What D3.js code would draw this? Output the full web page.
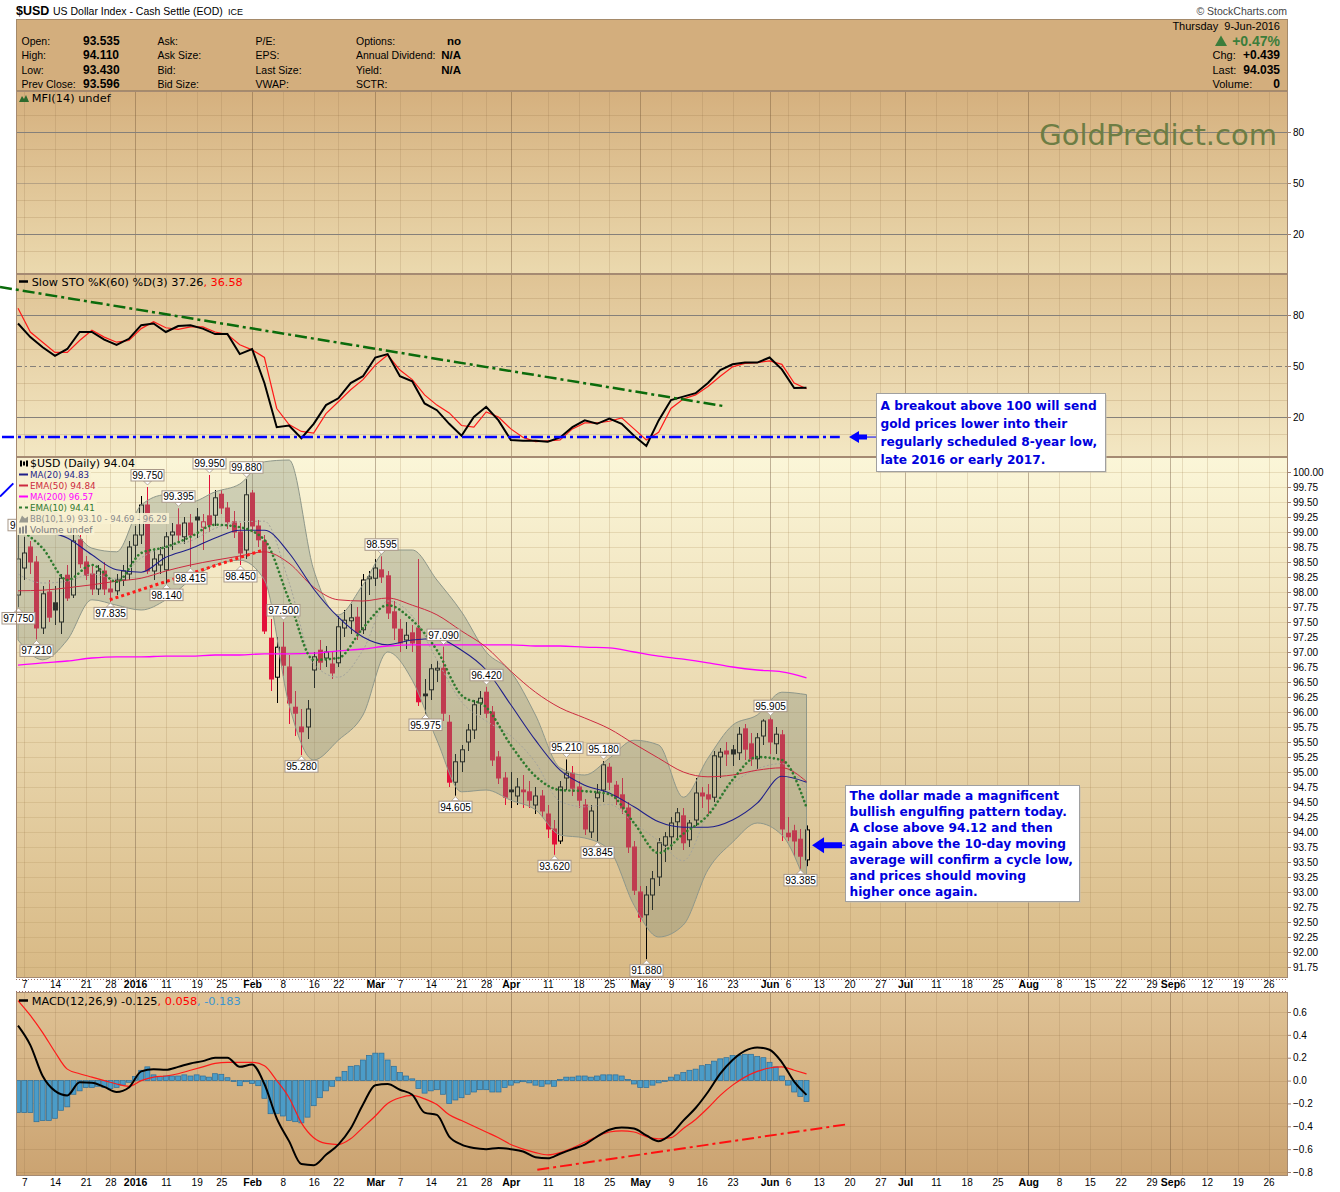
<!DOCTYPE html>
<html><head><meta charset="utf-8"><title>$USD</title>
<script src="https://cdn.jsdelivr.net/npm/d3@7/dist/d3.min.js"></script>
<style>html,body{margin:0;padding:0;background:#fff;}svg{display:block;}</style>
</head><body>
<svg id="chart" width="1340" height="1192" xmlns="http://www.w3.org/2000/svg"></svg>
<script>
// ================= DATA =================
const holidays=["2015-12-25","2016-01-01","2016-01-18","2016-02-15","2016-03-25","2016-05-30","2016-07-04","2016-09-05"];
const firstDay="2015-12-04", lastAxisDay="2016-09-30";

const opens=[97.95,98.40,98.75,98.50,97.40,98.00,97.82,97.50,98.28,97.95,98.87,98.50,98.30,98.05,98.35,98.05,98.02,98.20,98.30,98.78,
98.95,99.45,98.35,98.45,98.37,98.95,99.12,98.92,99.15,99.25,99.08,99.27,99.28,99.63,99.40,99.17,99.00,98.70,99.65,99.10,
98.85,97.23,96.58,97.08,96.75,96.08,95.75,95.75,96.70,97.03,96.90,96.80,96.82,97.40,97.52,97.58,97.37,98.22,98.23,98.37,
98.27,97.67,97.38,97.20,97.32,97.40,96.30,96.37,96.70,96.73,95.83,94.83,95.17,95.50,95.70,96.15,96.33,96.00,95.25,94.90,
94.70,94.60,94.70,94.67,94.45,94.60,94.30,94.05,93.85,94.90,94.98,94.75,94.45,94.00,94.57,94.70,95.08,94.78,94.62,94.40,
93.75,93.00,92.62,92.95,93.25,93.78,93.92,94.17,94.27,93.87,94.20,94.65,94.62,94.58,95.25,95.35,95.37,95.32,95.72,95.47,
95.22,95.60,95.87,95.47,95.62,93.98,94.02,93.88,93.535];
const highs=[98.95,98.92,98.85,98.60,98.10,98.20,98.10,98.30,98.45,99.05,98.95,98.60,98.45,98.45,98.50,98.20,98.30,98.45,98.85,99.10,
99.60,99.75,98.70,98.75,99.00,99.15,99.395,99.25,99.30,99.40,99.30,99.95,99.70,99.70,99.50,99.35,99.15,99.88,99.70,99.20,
98.95,97.55,97.25,97.50,96.95,96.35,96.05,96.20,97.00,97.20,97.10,97.00,97.60,97.70,97.80,97.75,98.30,98.35,98.55,98.595,
98.35,97.85,97.55,97.50,97.45,98.55,96.55,96.80,96.85,97.09,95.95,95.30,95.45,95.80,96.20,96.35,96.42,96.10,95.35,95.00,
95.00,94.90,94.95,94.85,94.75,94.70,94.45,94.20,94.85,95.21,95.10,94.85,94.55,94.45,94.80,95.18,95.15,94.85,94.90,94.50,
93.85,93.10,93.10,93.35,93.90,94.00,94.25,94.40,94.40,94.20,94.90,94.75,94.80,95.35,95.40,95.50,95.45,95.75,95.80,95.65,
95.65,95.88,95.905,95.75,95.70,94.25,94.12,94.05,94.11];
const lows=[97.75,98.20,98.30,97.21,97.30,97.50,97.45,97.30,97.85,97.90,98.40,98.20,97.95,97.95,97.95,97.835,97.95,98.10,98.20,98.55,
98.80,98.30,98.20,98.30,98.14,98.70,98.85,98.80,98.415,98.90,98.70,99.00,99.10,99.30,99.05,98.90,98.45,98.55,99.00,98.75,
97.30,96.35,96.15,96.60,95.80,95.60,95.28,95.55,96.40,96.70,96.75,96.55,96.75,97.25,97.30,97.20,97.30,97.95,98.10,98.15,
97.55,97.20,97.00,97.05,97.00,96.10,95.975,96.20,96.50,95.85,94.75,94.605,95.00,95.35,95.55,95.95,95.90,95.10,94.80,94.45,
94.40,94.45,94.40,94.40,94.30,94.25,93.90,93.62,93.80,94.70,94.60,94.40,93.95,93.90,93.845,94.50,94.70,94.45,94.30,93.65,
92.95,92.50,91.88,92.70,93.10,93.50,93.70,93.90,93.70,93.75,94.10,94.40,94.30,94.50,94.90,95.10,95.10,95.20,95.20,95.10,
95.05,95.45,95.30,95.30,93.85,93.85,93.60,93.385,93.43];
const closes=[98.55,98.65,98.50,97.40,97.97,97.58,97.70,98.23,97.90,98.85,98.47,98.28,98.05,98.35,98.05,98.00,98.20,98.35,98.75,98.95,
99.45,98.35,98.55,98.62,98.92,99.00,98.95,99.15,98.95,99.20,99.17,99.12,99.57,99.40,99.17,99.00,98.65,99.62,99.10,98.87,
97.35,96.55,97.08,96.78,96.15,95.98,95.67,96.05,96.92,96.83,97.00,96.65,97.42,97.53,97.57,97.32,98.20,98.25,98.40,98.25,
97.65,97.40,97.15,97.28,97.15,96.17,96.27,96.72,96.73,95.98,94.83,95.17,95.37,95.70,96.12,96.23,95.98,95.20,94.90,94.58,
94.67,94.75,94.67,94.53,94.60,94.35,94.05,93.80,94.75,94.98,94.73,94.53,94.05,94.35,94.65,95.12,94.83,94.58,94.40,93.75,
93.03,92.58,92.95,93.22,93.82,93.92,94.15,94.32,93.82,94.15,94.65,94.60,94.55,95.27,95.33,95.30,95.30,95.63,95.38,95.22,
95.57,95.85,95.50,95.63,94.05,93.92,93.85,93.596,94.035];

// overlays sampled every 4th bar
const ovIdx=[0,4,8,12,16,20,24,28,32,36,40,44,48,52,56,60,64,68,72,76,80,84,88,92,96,100,104,108,112,116,120,124,128];
const ma20=[99.17,99.03,98.9,98.62,98.37,98.33,98.58,98.72,98.9,99.03,99.03,98.65,98.05,97.58,97.25,97.12,97.2,97.22,97.03,96.7,96.12,95.53,95.03,94.78,94.65,94.42,94.17,94.08,94.08,94.2,94.48,94.93,94.83];
const ema50=[98.02,98.03,98.07,98.12,98.18,98.23,98.35,98.45,98.53,98.6,98.67,98.48,98.08,97.87,97.85,97.9,97.78,97.62,97.35,97.08,96.68,96.33,96.07,95.9,95.72,95.47,95.23,95.0,94.92,94.95,95.03,95.07,94.84];
const ma200=[96.78,96.82,96.85,96.9,96.92,96.92,96.93,96.93,96.95,96.95,96.97,96.97,96.98,97.02,97.05,97.1,97.12,97.12,97.12,97.12,97.12,97.1,97.1,97.08,97.07,97.0,96.93,96.88,96.82,96.75,96.7,96.67,96.57];
const ema10=[99.07,98.73,98.2,98.45,98.17,98.65,98.75,98.92,99.12,99.08,98.87,97.87,96.87,96.9,97.4,97.78,97.53,97.03,96.28,96.08,95.45,94.93,94.7,94.68,94.63,94.15,93.65,93.97,94.28,94.87,95.25,95.2,94.41];
const bbUpper=[99.4,99.43,99.17,98.73,98.67,99.45,99.62,99.5,99.67,99.8,100.17,100.2,98.37,97.62,98.12,98.7,98.7,98.2,97.67,97.0,96.67,95.95,95.07,94.95,95.23,95.53,95.45,94.58,95.23,95.78,95.95,96.33,96.29];
const bbMid=[98.3,98.15,98.18,98.3,98.22,98.57,98.75,98.85,99.06,99.17,99.18,98.16,96.8,96.58,97.03,97.85,97.6,96.87,96.17,95.85,95.6,95.16,94.51,94.42,94.46,94.15,93.85,93.52,94.3,94.8,95.05,95.14,94.69];
const bbLower=[97.2,96.87,97.2,97.87,97.78,97.7,97.87,98.2,98.45,98.53,98.2,96.12,95.2,95.53,95.95,97.0,96.53,95.53,94.67,94.7,94.53,94.37,93.95,93.9,93.7,92.78,92.25,92.45,93.37,93.83,94.15,93.95,93.10];

// indicator lines sampled every 2nd bar (bars 0,2,...,128)
const stoK=[75,67,61,56,60,70,70,65.5,62.4,66,74,75,70,73.5,74,72,68.8,68.8,57,60,40,14,15,7.5,16,27,31,40,44,55,57,44,41,28,24,16,9,20,26,18,6.5,6,6,5.5,8,14,18,16,19,16,9,3,18,30,32,34,40,47.6,51,52,52,55,48,37,37.26];
const stoD=[84,70,64,58,58,65,71,67,64,65,72,76,72.5,71.5,73,73,70,68.5,62.5,59.5,55,25,15.5,11.5,10.5,22,29,36,42,50.5,56.5,47.6,42,33,27,22.4,15,14,23,20,13,8,5.5,6,6.5,13,16.5,16.5,17.5,19.5,13,6.5,11,25,30.6,33,38,44,49.5,51.5,52,53,51,40,36.58];
const macdLine=[0.48,0.31,0.04,-0.09,-0.13,-0.015,-0.02,-0.055,-0.10,-0.06,0.08,0.10,0.095,0.12,0.15,0.17,0.20,0.20,0.12,0.14,-0.03,-0.33,-0.53,-0.73,-0.74,-0.65,-0.56,-0.42,-0.21,-0.04,-0.03,-0.08,-0.125,-0.28,-0.30,-0.49,-0.56,-0.59,-0.6,-0.59,-0.6,-0.62,-0.67,-0.68,-0.64,-0.6,-0.56,-0.49,-0.43,-0.41,-0.42,-0.48,-0.53,-0.47,-0.35,-0.24,-0.10,0.06,0.18,0.26,0.29,0.27,0.16,-0.01,-0.125];
const macdSignal=[0.70,0.57,0.42,0.25,0.10,0.06,0.03,0.0,-0.03,-0.05,0.0,0.03,0.04,0.06,0.09,0.12,0.15,0.16,0.16,0.16,0.13,0.0,-0.15,-0.37,-0.50,-0.55,-0.56,-0.51,-0.41,-0.31,-0.2,-0.15,-0.13,-0.16,-0.21,-0.30,-0.35,-0.4,-0.45,-0.5,-0.56,-0.6,-0.63,-0.65,-0.63,-0.59,-0.54,-0.49,-0.45,-0.44,-0.45,-0.49,-0.51,-0.50,-0.42,-0.34,-0.24,-0.13,-0.04,0.03,0.08,0.11,0.12,0.09,0.058];
// histogram, one per bar
const macdHist=[-0.28,-0.28,-0.28,-0.36,-0.35,-0.35,-0.33,-0.26,-0.23,-0.12,-0.09,-0.06,-0.06,-0.05,-0.06,-0.07,-0.06,-0.04,-0.015,0.035,
0.09,0.12,0.05,0.035,0.04,0.04,0.04,0.05,0.04,0.05,0.04,0.03,0.06,0.055,0.025,-0.005,-0.045,-0.01,-0.025,-0.045,
-0.155,-0.29,-0.29,-0.31,-0.35,-0.36,-0.37,-0.32,-0.22,-0.15,-0.09,-0.05,0.03,0.08,0.125,0.13,0.18,0.22,0.24,0.24,
0.18,0.125,0.07,0.04,0.015,-0.07,-0.11,-0.09,-0.08,-0.12,-0.2,-0.17,-0.15,-0.12,-0.1,-0.08,-0.08,-0.1,-0.1,-0.06,
-0.04,-0.02,-0.01,-0.02,-0.04,-0.05,-0.03,-0.05,0.01,0.03,0.03,0.04,0.04,0.03,0.04,0.05,0.05,0.05,0.04,0.01,
-0.03,-0.06,-0.06,-0.04,-0.02,0.0,0.03,0.05,0.07,0.09,0.1,0.13,0.14,0.17,0.19,0.2,0.22,0.22,0.23,0.23,
0.21,0.2,0.16,0.12,0.04,-0.04,-0.1,-0.14,-0.183];

// price callouts (first one is mostly hidden behind the legend; only its first digit shows)
const calloutIdx=[1,0,3,15,21,24,26,28,31,36,37,43,46,59,66,69,71,76,87,89,94,95,102,122,127];
const calloutVal=[98.92,97.75,97.21,97.835,99.75,98.14,99.395,98.415,99.95,98.45,99.88,97.5,95.28,98.595,95.975,97.09,94.605,96.42,93.62,95.21,93.845,95.18,91.88,95.905,93.385];
const calloutSide=["hi","lo","lo","lo","hi","lo","hi","lo","hi","lo","hi","hi","lo","hi","lo","hi","lo","hi","lo","hi","lo","hi","lo","hi","lo"];

// drawn trendlines [barIndex, value]
const stoTrendGreen=[[-2.92,96.5],[114.4,26.5]];
const stoLineBlue=[[-2.6,8.2],[133.4,8.2]];
const priceTrendRed=[[14.9,97.87],[39.8,98.7]];
const priceLineBlue=[[-2.92,99.59],[-0.76,99.81]];
const macdTrendRed=[[84.3,-0.78],[134.3,-0.385]];
const arrowSto=[134.9,8.2];
const arrowPrice=[128.9,93.78];

// axis tick labels
const tickDates=["2015-12-07","2015-12-14","2015-12-21","2015-12-28","2016-01-04","2016-01-11","2016-01-19","2016-01-25","2016-02-01","2016-02-08","2016-02-16","2016-02-22","2016-03-01","2016-03-07","2016-03-14","2016-03-21","2016-03-28","2016-04-01","2016-04-11","2016-04-18","2016-04-25","2016-05-02","2016-05-09","2016-05-16","2016-05-23","2016-06-01","2016-06-06","2016-06-13","2016-06-20","2016-06-27","2016-07-01","2016-07-11","2016-07-18","2016-07-25","2016-08-01","2016-08-08","2016-08-15","2016-08-22","2016-08-29","2016-09-01","2016-09-06","2016-09-12","2016-09-19","2016-09-26"];
const tickLabels=["7","14","21","28","2016","11","19","25","Feb","8","16","22","Mar","7","14","21","28","Apr","11","18","25","May","9","16","23","Jun","6","13","20","27","Jul","11","18","25","Aug","8","15","22","29","Sep","6","12","19","26"];
const priceTicks=d3.range(0,34).map(k=>+(91.75+k*0.25).toFixed(2));
const oscTicks=[80,50,20];
const macdTicks=[0.6,0.4,0.2,0.0,-0.2,-0.4,-0.6,-0.8];

// text content
const titleSym="$USD", titleName="US Dollar Index - Cash Settle (EOD)", titleExch="ICE";
const hdrC1L=["Open:","High:","Low:","Prev Close:"], hdrC1V=["93.535","94.110","93.430","93.596"];
const hdrC2L=["Ask:","Ask Size:","Bid:","Bid Size:"];
const hdrC3L=["P/E:","EPS:","Last Size:","VWAP:"];
const hdrC4L=["Options:","Annual Dividend:","Yield:","SCTR:"], hdrC4V=["no","N/A","N/A",""];
const hdrDate="Thursday\u00A0\u00A09-Jun-2016", hdrPct="+0.47%";
const hdrRL=["Chg:","Last:","Volume:"], hdrRV=["+0.439","94.035","0"];
const legendLabels=["$USD (Daily) 94.04","MA(20) 94.83","EMA(50) 94.84","MA(200) 96.57","EMA(10) 94.41","BB(10,1.9) 93.10 - 94.69 - 96.29","Volume undef"];
const note1=["A breakout above 100 will send","gold prices lower into their","regularly scheduled 8-year low,","late 2016 or early 2017."];
const note2=["The dollar made a magnificent","bullish engulfing pattern today.","A close above 94.12 and then","again above the 10-day moving","average will confirm a cycle low,","and prices should moving","higher once again."];

// ================= DRAW =================
const SANS='"Liberation Sans", Arial, sans-serif';
const DV='"DejaVu Sans", Verdana, sans-serif';
const svg=d3.select("#chart");
const defs=svg.append("defs");
const L=16,R=1288;
const PNL={mfi:[91,274],sto:[274,457],price:[457,978],macd:[992,1176]};

function gradient(id,c1,c2){const g=defs.append("linearGradient").attr("id",id).attr("x1",0).attr("y1",0).attr("x2",0).attr("y2",1);
  g.append("stop").attr("offset","0%").attr("stop-color",c1);g.append("stop").attr("offset","100%").attr("stop-color",c2);}
gradient("gMfi","#d5b07e","#ebd9ae");
gradient("gSto","#dfc394","#f3e7c3");
gradient("gPrice","#fbf6d8","#d8b985");
gradient("gMacd","#dfc295","#cba371");
function clip(id,p){defs.append("clipPath").attr("id",id).append("rect").attr("x",L).attr("y",p[0]).attr("width",R-L).attr("height",p[1]-p[0]);}
clip("cMfi",PNL.mfi);clip("cSto",PNL.sto);clip("cPrice",PNL.price);clip("cMacd",PNL.macd);

// trading calendar
function tradingDays(s,e){const out=[];let t=Date.parse(s+"T00:00:00Z");const end=Date.parse(e+"T00:00:00Z");
  while(t<=end){const d=new Date(t);const wd=d.getUTCDay();const iso=d.toISOString().slice(0,10);
    if(wd!==0&&wd!==6&&!holidays.includes(iso))out.push(iso);t+=86400000;}return out;}
const days=tradingDays(firstDay,lastAxisDay);
const dayIndex=new Map(days.map((d,i)=>[d,i]));
const tickIdx=tickDates.map(d=>dayIndex.get(d));
const isMajor=l=>isNaN(+l)||l.length===4;

const x=d3.scaleLinear().domain([0,128]).range([18,806.5]);
const yM=d3.scaleLinear().domain([0,100]).range([268,98]);
const yS=d3.scaleLinear().domain([0,100]).range([451,281]);
const yP=d3.scaleLinear().domain([91.75,100]).range([967,472]);
const yD=d3.scaleLinear().domain([-0.8,0.6]).range([1172,1012]);

// title
svg.append("text").attr("x",16).attr("y",15).attr("font-family",SANS).attr("font-size",12.5).attr("font-weight","bold").text(titleSym);
svg.append("text").attr("x",53).attr("y",15).attr("font-family",SANS).attr("font-size",10.5).text(titleName);
svg.append("text").attr("x",228).attr("y",15).attr("font-family",SANS).attr("font-size",9).text(titleExch);
svg.append("text").attr("x",1287).attr("y",15).attr("text-anchor","end").attr("font-family",SANS).attr("font-size",10.5).attr("fill","#444").text("\u00A9 StockCharts.com");

// header box
svg.append("rect").attr("x",16.5).attr("y",19.5).attr("width",R-L-1).attr("height",71).attr("fill","#d3ae7d").attr("stroke","#a58a6a");
const hy=[44.5,59,73.5,88];
function hText(xx,yy,t,opt={}){return svg.append("text").attr("x",xx).attr("y",yy).attr("font-family",SANS).attr("font-size",opt.size||10.5)
  .attr("font-weight",opt.bold?"bold":"normal").attr("text-anchor",opt.anchor||"start").attr("fill",opt.fill||"#000").text(t);}
hy.forEach((yy,k)=>{hText(21.5,yy,hdrC1L[k]);hText(83,yy,hdrC1V[k],{bold:1,size:12});hText(157.5,yy,hdrC2L[k]);hText(255.5,yy,hdrC3L[k]);
  hText(356,yy,hdrC4L[k]);if(hdrC4V[k])hText(461,yy,hdrC4V[k],{bold:1,size:11.5,anchor:"end"});});
hText(1280,29.5,hdrDate,{anchor:"end",size:11});
hText(1280,46,hdrPct,{anchor:"end",bold:1,size:14,fill:"#3b7d3b"});
svg.append("polygon").attr("points","1215,46 1227,46 1221,35.5").attr("fill","#3b7d3b");
[59,73.5,88].forEach((yy,k)=>{hText(1212.5,yy,hdrRL[k],{size:11});hText(1280,yy,hdrRV[k],{anchor:"end",bold:1,size:12});});

// panel backgrounds + grids
function panelBg(p,gid){svg.append("rect").attr("x",L).attr("y",p[0]).attr("width",R-L).attr("height",p[1]-p[0]).attr("fill",`url(#${gid})`);}
panelBg(PNL.mfi,"gMfi");panelBg(PNL.sto,"gSto");panelBg(PNL.price,"gPrice");panelBg(PNL.macd,"gMacd");
function vgrid(p,wk,mo){const g=svg.append("g");
  tickIdx.forEach((ti,k)=>{const xx=Math.round(x(ti))+0.5;if(xx>R)return;
    g.append("line").attr("x1",xx).attr("x2",xx).attr("y1",p[0]).attr("y2",p[1]).attr("stroke",isMajor(tickLabels[k])?mo:wk).attr("stroke-width",1);});}
function hline(yy,stroke,dash,w){svg.append("line").attr("x1",L).attr("x2",R).attr("y1",Math.round(yy)+0.5).attr("y2",Math.round(yy)+0.5)
  .attr("stroke",stroke).attr("stroke-width",w||1).attr("stroke-dasharray",dash||null);}
// MFI
[10,30,40,60,70,90].forEach(v=>hline(yM(v),"rgba(150,115,70,0.22)"));
vgrid(PNL.mfi,"rgba(140,105,65,0.18)","rgba(120,90,60,0.45)");
hline(yM(50),"rgba(130,120,110,0.45)");hline(yM(80),"#85807a");hline(yM(20),"#85807a");
// STO
[10,30,40,60,70,90].forEach(v=>hline(yS(v),"rgba(150,115,70,0.22)"));
vgrid(PNL.sto,"rgba(140,105,65,0.18)","rgba(120,90,60,0.45)");
hline(yS(80),"#85807a");hline(yS(20),"#85807a");hline(yS(50),"#85807a","6,3,2,3");
// price
priceTicks.forEach(v=>hline(yP(v),"rgba(170,135,80,0.22)"));
vgrid(PNL.price,"rgba(150,115,70,0.2)","rgba(120,95,70,0.45)");
// MACD
d3.range(-0.8,0.61,0.2).forEach(v=>hline(yD(v),"rgba(150,115,70,0.22)"));
vgrid(PNL.macd,"rgba(140,105,65,0.18)","rgba(120,90,60,0.45)");

// ---------- STO ----------
const even=d3.range(0,129,2);
const gS=svg.append("g").attr("clip-path","url(#cSto)");
gS.append("path").attr("d",d3.line().x((d,k)=>x(even[k])).y(d=>yS(d))(stoD)).attr("fill","none").attr("stroke","#ff1a1a").attr("stroke-width",1.2);
gS.append("path").attr("d",d3.line().x((d,k)=>x(even[k])).y(d=>yS(d))(stoK)).attr("fill","none").attr("stroke","#000").attr("stroke-width",2);

// ---------- PRICE ----------
const gP=svg.append("g").attr("clip-path","url(#cPrice)");
const RED="#e3103a";
opens.forEach((o,i)=>{const c=closes[i],h=highs[i],l=lows[i];const prev=i>0?closes[i-1]:o;
  const col=c>=prev?"#000":RED;const hollow=c>=o;const cx=Math.round(x(i))+0.5;
  const top=yP(Math.max(o,c)),bot=yP(Math.min(o,c));
  gP.append("line").attr("x1",cx).attr("x2",cx).attr("y1",yP(h)).attr("y2",top).attr("stroke",col);
  gP.append("line").attr("x1",cx).attr("x2",cx).attr("y1",bot).attr("y2",yP(l)).attr("stroke",col);
  if(hollow){gP.append("rect").attr("x",cx-2).attr("y",top).attr("width",4).attr("height",Math.max(1,bot-top)).attr("fill","none").attr("stroke",col);}
  else{gP.append("rect").attr("x",cx-2.5).attr("y",top-0.5).attr("width",5).attr("height",Math.max(1.5,bot-top+1)).attr("fill",col);}
});
const ov=ovIdx.map((i,k)=>({i,ma20:ma20[k],ema50:ema50[k],ma200:ma200[k],ema10:ema10[k],up:bbUpper[k],mid:bbMid[k],lo:bbLower[k]}));
gP.append("path").attr("d",d3.area().x(d=>x(d.i)).y0(d=>yP(d.lo)).y1(d=>yP(d.up)).curve(d3.curveMonotoneX)(ov))
  .attr("fill","#7f8c7a").attr("fill-opacity",0.35).attr("stroke","#8e978a").attr("stroke-width",1);
const lineP=k=>d3.line().x(d=>x(d.i)).y(d=>yP(d[k])).curve(d3.curveMonotoneX)(ov);
gP.append("path").attr("d",lineP("mid")).attr("fill","none").attr("stroke","#a4a49c").attr("stroke-width",1).attr("stroke-dasharray","2,2");
gP.append("path").attr("d",lineP("ma200")).attr("fill","none").attr("stroke","#ff00ff").attr("stroke-width",1.3);
gP.append("path").attr("d",lineP("ema50")).attr("fill","none").attr("stroke","#cc2a40").attr("stroke-width",1);
gP.append("path").attr("d",lineP("ma20")).attr("fill","none").attr("stroke","#1f1f8a").attr("stroke-width",1.1);
gP.append("path").attr("d",lineP("ema10")).attr("fill","none").attr("stroke","#2f7a2f").attr("stroke-width",2.6).attr("stroke-dasharray","0.1,4.2").attr("stroke-linecap","round");
gP.append("path").attr("d",d3.line().x(d=>x(d[0])).y(d=>yP(d[1]))(priceTrendRed)).attr("stroke","#ff1a1a").attr("stroke-width",3).attr("stroke-dasharray","3,3");
// callouts (not clipped, as in the reference)
const gC=svg.append("g");
calloutIdx.forEach((ci,k)=>{const cx=Math.round(x(ci))+0.5;const v=calloutVal[k];const yy=yP(v);const g=gC.append("g");
  let by,tip,base;
  if(calloutSide[k]==="hi"){base=yy-6;tip=yy-2;by=base-12;}else{base=yy+5;tip=yy+1;by=base;}
  g.append("polygon").attr("points",`${cx-4},${base} ${cx+4},${base} ${cx},${tip}`).attr("fill","#fff").attr("stroke","#a89888").attr("stroke-width",0.8);
  g.append("rect").attr("x",cx-16.5).attr("y",by+0.5).attr("width",33).attr("height",11.5).attr("fill","#fff").attr("stroke","#a89888");
  const full=v.toFixed(3);
  if(k===0){ // hidden behind legend: only the leading digit peeks out
    g.append("text").attr("x",cx-14.5).attr("y",by+10).attr("font-family",SANS).attr("font-size",10).text(full.charAt(0));
  } else {
    g.append("text").attr("x",cx).attr("y",by+10).attr("text-anchor","middle").attr("font-family",SANS).attr("font-size",10).text(full);
  }
});
// legend
const legY=[467,478,489,500,511,522,533];
const legW=[105,59,65.7,63.3,64.7,137,62.4];
const legC=["#000","#1f1f8a","#cc2a40","#ff00ff","#2f7a2f","#8c8c8c","#7a7a7a"];
const gL=svg.append("g");
legendLabels.forEach((t,k)=>{const yy=legY[k];
  gL.append("rect").attr("x",17).attr("y",yy-9).attr("width",legW[k]+15).attr("height",11).attr("fill","#f8f1d2").attr("fill-opacity",0.9);
  gL.append("text").attr("x",30).attr("y",yy).attr("font-family",DV).attr("font-size",k===0?10:8.4).attr("fill",legC[k])
    .attr("textLength",legW[k]).attr("lengthAdjust","spacingAndGlyphs").text(t);
  const iy=yy-3.5;
  if(k===0){[20,23,26].forEach((xx,j)=>gL.append("rect").attr("x",xx).attr("y",iy-3+j%2).attr("width",2).attr("height",6-j%2*2).attr("fill","#000"));}
  else if(k<=3){gL.append("line").attr("x1",19).attr("x2",28).attr("y1",iy).attr("y2",iy).attr("stroke",legC[k]).attr("stroke-width",2);}
  else if(k===4){gL.append("line").attr("x1",19).attr("x2",28).attr("y1",iy).attr("y2",iy).attr("stroke",legC[k]).attr("stroke-width",2).attr("stroke-dasharray","3,3");}
  else if(k===5){gL.append("polygon").attr("points",`19,${iy+4} 22,${iy-3} 25,${iy} 28,${iy-2} 28,${iy+4}`).attr("fill","#9a9a90");}
  else{[19,22,25].forEach((xx,j)=>gL.append("rect").attr("x",xx).attr("y",iy-2-j).attr("width",2).attr("height",6+j).attr("fill","#8a8a8a"));}
});

// ---------- MACD ----------
const gD=svg.append("g").attr("clip-path","url(#cMacd)");
macdHist.forEach((h,i)=>{const cx=x(i);const y0=yD(0),y1=yD(h);
  gD.append("rect").attr("x",cx-2.5).attr("y",Math.min(y0,y1)).attr("width",5).attr("height",Math.max(0.8,Math.abs(y1-y0)))
    .attr("fill","#4b9cc8").attr("stroke","#2b6d98").attr("stroke-width",0.7);});
gD.append("path").attr("d",d3.line().x((d,k)=>x(even[k])).y(d=>yD(d)).curve(d3.curveMonotoneX)(macdSignal)).attr("fill","none").attr("stroke","#ff1a1a").attr("stroke-width",1.2);
gD.append("path").attr("d",d3.line().x((d,k)=>x(even[k])).y(d=>yD(d)).curve(d3.curveMonotoneX)(macdLine)).attr("fill","none").attr("stroke","#000").attr("stroke-width",2);
gD.append("path").attr("d",d3.line().x(d=>x(d[0])).y(d=>yD(d[1]))(macdTrendRed)).attr("stroke","#ff1010").attr("stroke-width",2).attr("stroke-dasharray","12,4,3,4");

// panel borders
Object.values(PNL).forEach(p=>svg.append("rect").attr("x",L+0.5).attr("y",p[0]+0.5).attr("width",R-L-1).attr("height",p[1]-p[0]-1).attr("fill","none").attr("stroke","#a58a72"));

// panel labels
function panelLabel(xx,yy,parts,w){const t=svg.append("text").attr("x",xx).attr("y",yy).attr("font-family",DV).attr("font-size",11).attr("textLength",w).attr("lengthAdjust","spacingAndGlyphs");
  parts.forEach(p=>t.append("tspan").attr("fill",p[1]).text(p[0]));}
svg.append("polygon").attr("points","19,102 22,96 24,99 26,95 29,102").attr("fill","#2d6a2d");
panelLabel(31.7,102,[["MFI(14) undef","#000"]],79);
svg.append("line").attr("x1",19).attr("x2",28).attr("y1",281.5).attr("y2",281.5).attr("stroke","#000").attr("stroke-width",2.5);
panelLabel(31.7,285.5,[["Slow STO %K(60) %D(3) 37.26","#000"],[", 36.58","#ff0000"]],211);
svg.append("line").attr("x1",19).attr("x2",28).attr("y1",1000.5).attr("y2",1000.5).attr("stroke","#000").attr("stroke-width",2.5);
panelLabel(31.7,1004.5,[["MACD(12,26,9) -0.125","#000"],[", 0.058","#ff0000"],[", -0.183","#3b95cf"]],209);

// right axes
function rightAxis(scale,vals,fmt){const g=svg.append("g").attr("transform",`translate(${R},0)`)
  .call(d3.axisRight(scale).tickValues(vals).tickFormat(fmt).tickSize(3).tickPadding(2));
  g.select(".domain").remove();g.attr("font-family",SANS).attr("font-size",10);
  g.selectAll("line").attr("stroke","#a08070");g.selectAll("text").attr("fill","#000");}
rightAxis(yM,oscTicks,d3.format("d"));
rightAxis(yS,oscTicks,d3.format("d"));
rightAxis(yP,priceTicks,d3.format(".2f"));
rightAxis(yD,macdTicks,d3.format(".1f"));

// date strips
svg.append("rect").attr("x",L).attr("y",978).attr("width",R-L).attr("height",14).attr("fill","#fff");
[979.5,991.5].forEach(yy=>svg.append("line").attr("x1",L).attr("x2",R).attr("y1",yy).attr("y2",yy).attr("stroke","#9a6a60").attr("stroke-dasharray","1,2"));
function dateAxis(yy){const g=svg.append("g").attr("transform",`translate(0,${yy})`)
  .call(d3.axisBottom(x).tickValues(tickIdx).tickFormat((d,k)=>tickLabels[k]).tickSize(0).tickPadding(3));
  g.select(".domain").remove();g.attr("font-family",SANS).attr("font-size",10);
  g.selectAll("text").attr("fill","#000").attr("font-weight",(d,k)=>isMajor(tickLabels[k])?"bold":"normal").attr("font-size",(d,k)=>isMajor(tickLabels[k])?10.5:10);}
dateAxis(978);
dateAxis(1176);

// ---------- annotations ----------
svg.append("text").attr("x",1277).attr("y",145).attr("text-anchor","end").attr("font-family",DV).attr("font-size",29).attr("fill","#6d7d44").text("GoldPredict.com");
svg.append("path").attr("d",d3.line().x(d=>x(d[0])).y(d=>yS(d[1]))(stoTrendGreen)).attr("stroke","#0b6b0b").attr("stroke-width",2.5).attr("stroke-dasharray","12,4,3,4");
svg.append("path").attr("d",d3.line().x(d=>x(d[0])).y(d=>yS(d[1]))(stoLineBlue)).attr("stroke","#0000ff").attr("stroke-width",2.5).attr("stroke-dasharray","12,4,3,4");
svg.append("path").attr("d",d3.line().x(d=>x(d[0])).y(d=>yP(d[1]))(priceLineBlue)).attr("stroke","#0000ff").attr("stroke-width",2);
function arrow(tx,ty,head,hh,shaft,sh,tail){const p=[[tx,ty],[tx+head,ty-hh],[tx+head,ty-sh],[tx+head+shaft,ty-sh],[tx+head+shaft,ty+sh],[tx+head,ty+sh],[tx+head,ty+hh]];
  svg.append("polygon").attr("points",p.map(q=>q.join(",")).join(" ")).attr("fill","#0000ff");
  if(tail>0)svg.append("line").attr("x1",tx+head+shaft).attr("x2",tx+head+shaft+tail).attr("y1",ty).attr("y2",ty).attr("stroke","#0000ff").attr("stroke-width",1);}
arrow(x(arrowSto[0]),yS(arrowSto[1]),10,6,8,2.5,10);
arrow(x(arrowPrice[0]),yP(arrowPrice[1]),12,8,18,3,4);
function noteBox(bx,by,bw,bh,lines,ty,step){svg.append("rect").attr("x",bx+1.5).attr("y",by+1.5).attr("width",bw).attr("height",bh).attr("fill","#c8c0b0").attr("opacity",0.5);
  svg.append("rect").attr("x",bx).attr("y",by).attr("width",bw).attr("height",bh).attr("fill","#fff").attr("stroke","#a0a0a0");
  lines.forEach((t,k)=>svg.append("text").attr("x",bx+4).attr("y",ty+k*step).attr("font-family",DV).attr("font-weight","bold").attr("font-size",12.2).attr("fill","#0000dd").text(t));}
noteBox(876.5,393.5,229,78,note1,410,18);
noteBox(845.5,785.5,234,116,note2,800,16);
</script></body></html>
